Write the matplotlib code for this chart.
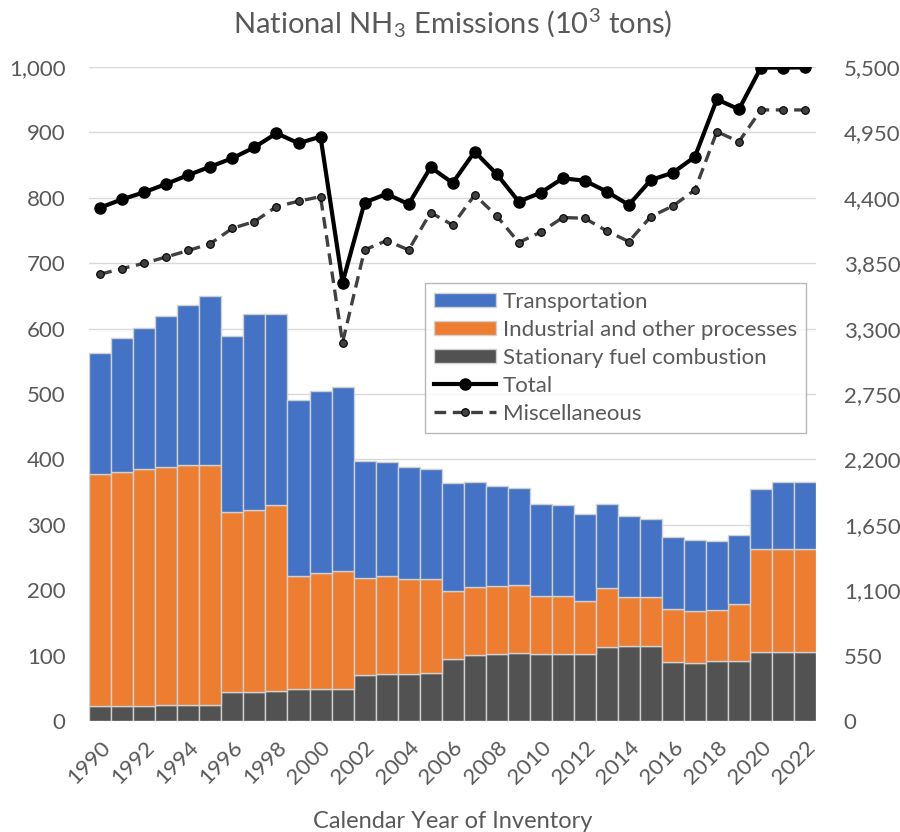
import numpy as np
import matplotlib
matplotlib.use("Agg")
import matplotlib.pyplot as plt

plt.rcParams['font.family'] = ['Lato', 'DejaVu Sans']
plt.rcParams['mathtext.fontset'] = 'custom'
plt.rcParams['mathtext.rm'] = 'Lato'
plt.rcParams['mathtext.it'] = 'Lato'

years = list(range(1990, 2023))

# stacked components, 10^3 tons (left axis)
stationary = [23, 23, 23, 24, 25, 25, 45, 45, 46, 49, 49, 49,
              71, 72, 72, 73, 95, 101, 102, 104, 103, 103, 102,
              113, 114, 115, 90, 89, 91, 91, 105, 105, 105]
industrial_top = [377, 381, 385, 389, 391, 391, 320, 323, 331, 222, 226, 230,
                  219, 221, 217, 217, 199, 205, 207, 208, 191, 191, 184,
                  203, 189, 189, 171, 168, 169, 179, 263, 263, 263]
transport_top = [563, 585, 601, 620, 636, 650, 588, 622, 622, 491, 504, 511,
                 398, 396, 389, 385, 364, 365, 359, 356, 332, 330, 317,
                 332, 314, 309, 282, 277, 275, 285, 354, 365, 365]

# totals and miscellaneous, 10^3 tons (right axis)
total = [4318, 4388, 4447, 4517, 4592, 4662, 4733, 4825, 4943, 4859, 4914,
         3687, 4360, 4433, 4346, 4657, 4525, 4788, 4600, 4368, 4443, 4564,
         4544, 4452, 4340, 4550, 4611, 4745, 5228, 5144, 5495, 5495, 5497]
misc = [3758, 3805, 3850, 3903, 3957, 4015, 4144, 4200, 4326, 4371, 4410,
        3183, 3962, 4040, 3962, 4276, 4171, 4424, 4248, 4024, 4111, 4234,
        4228, 4121, 4032, 4242, 4331, 4466, 4956, 4872, 5139, 5139, 5139]

industrial = [t - s for t, s in zip(industrial_top, stationary)]
transport = [t - i for t, i in zip(transport_top, industrial_top)]

blue = '#4472C4'
orange = '#ED7D31'
dgray = '#525252'
txt = '#595959'
grid = '#D9D9D9'

fig = plt.figure(figsize=(9, 8.32), dpi=100)
ax = fig.add_axes([89.3 / 900, 1 - 721 / 832, (816 - 89.3) / 900, (721 - 67) / 832])
ax2 = ax.twinx()

x = np.arange(len(years))
kw = dict(width=1.0, edgecolor='#D0D0D0', linewidth=1.0, zorder=2)
b1 = ax.bar(x, stationary, color=dgray, label='Stationary fuel combustion', **kw)
b2 = ax.bar(x, industrial, bottom=stationary, color=orange,
            label='Industrial and other processes', **kw)
b3 = ax.bar(x, transport, bottom=industrial_top, color=blue,
            label='Transportation', **kw)

l1, = ax2.plot(x, total, color='black', lw=3, marker='o', ms=8,
               mfc='black', mec='black', label='Total', zorder=4)
l2, = ax2.plot(x, misc, color='#404040', lw=2.4, ls=(0, (3.5, 2)), marker='o', ms=5.5,
               mfc='#404040', mec='black', mew=0.8, label='Miscellaneous', zorder=3)

ax.set_xlim(-0.5, len(years) - 0.5)
ax.set_ylim(0, 1000)
ax2.set_ylim(0, 5500)
ax.set_yticks(np.arange(0, 1001, 100))
ax2.set_yticks(np.arange(0, 5501, 550))
ax.yaxis.set_major_formatter(matplotlib.ticker.StrMethodFormatter('{x:,.0f}'))
ax2.yaxis.set_major_formatter(matplotlib.ticker.StrMethodFormatter('{x:,.0f}'))

ax.set_xticks(x[::2])
ax.set_xticklabels([str(y) for y in years[::2]], rotation=45, ha='right',
                   rotation_mode='anchor')

ax.grid(axis='y', color=grid, lw=1.0, zorder=0)
ax.set_axisbelow(True)
for a in (ax, ax2):
    for s in a.spines.values():
        s.set_visible(False)
    a.tick_params(length=0, labelsize=16, colors=txt)
ax.tick_params(axis='y', pad=17)
ax2.tick_params(axis='y', pad=20)
ax.tick_params(axis='x', pad=12)
ax2.patch.set_visible(False)

ax.set_title('National NH$_3$ Emissions (10$^3$ tons)', fontsize=21, color=txt, pad=24)
ax.set_xlabel('Calendar Year of Inventory', fontsize=17, color=txt, labelpad=16)

leg = ax2.legend([b3, b2, b1, l1, l2],
                 ['Transportation', 'Industrial and other processes',
                  'Stationary fuel combustion', 'Total', 'Miscellaneous'],
                 loc='upper left', bbox_to_anchor=(0.462, 0.670), borderaxespad=0,
                 fontsize=16, frameon=True, fancybox=False, edgecolor='#A6A6A6',
                 handlelength=2.8, handleheight=0.55, handletextpad=0.3,
                 labelspacing=0.36, borderpad=0.4, labelcolor=txt)
leg.get_frame().set_linewidth(1.0)

fig.savefig('out.png', dpi=100)
